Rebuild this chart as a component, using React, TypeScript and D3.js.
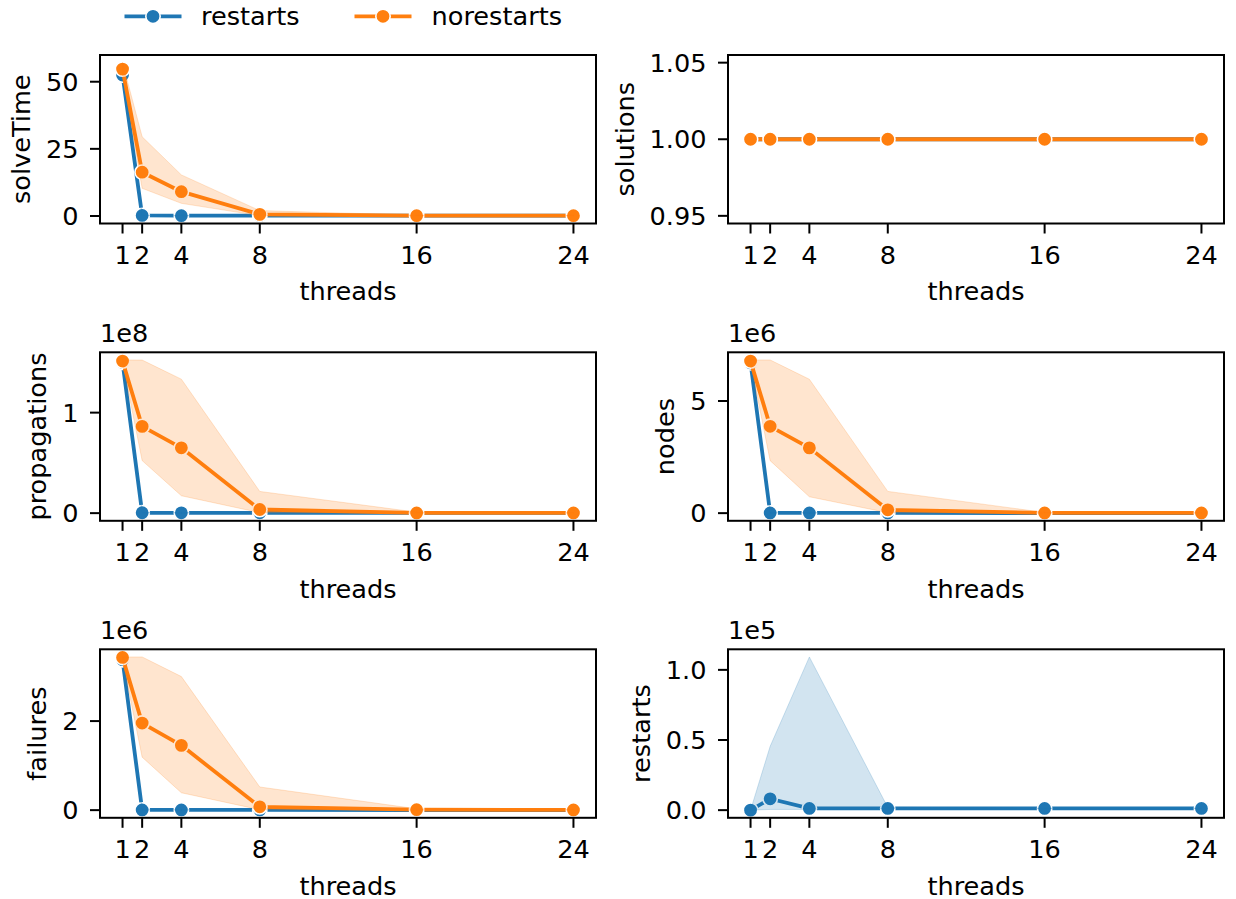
import React from 'react';
import * as d3 from 'd3';

const threads = [1, 2, 4, 8, 16, 24];
const xTicks = [1, 2, 4, 8, 16, 24];

// solveTime
const solveTimeRestarts = [52.5, 0.2, 0.1, 0.1, 0.1, 0.1];
const solveTimeRestartsLo = [52.5, 0.1, 0.05, 0.05, 0.05, 0.05];
const solveTimeRestartsHi = [52.5, 0.3, 0.2, 0.2, 0.2, 0.2];
const solveTimeNorestarts = [54.7, 16.3, 9.05, 0.6, 0.1, 0.1];
const solveTimeNorestartsLo = [52.5, 10.3, 4.7, 0.1, 0.05, 0.05];
const solveTimeNorestartsHi = [57.1, 29.5, 15.3, 2.0, 0.3, 0.2];
const solveTimeTicks = [0, 25, 50];
const solveTimeTickLabels = ['0', '25', '50'];

// solutions
const solutionsRestarts = [1, 1, 1, 1, 1, 1];
const solutionsNorestarts = [1, 1, 1, 1, 1, 1];
const solutionsTicks = [0.95, 1.0, 1.05];
const solutionsTickLabels = ['0.95', '1.00', '1.05'];

// propagations (x 1e8)
const propRestarts = [1.5, 0.004, 0.003, 0.003, 0.002, 0.002];
const propRestartsLo = [1.5, 0.002, 0.002, 0.002, 0.001, 0.001];
const propRestartsHi = [1.5, 0.006, 0.005, 0.004, 0.003, 0.003];
const propNorestarts = [1.513, 0.863, 0.65, 0.036, 0.002, 0.002];
const propNorestartsLo = [1.5, 0.523, 0.173, 0.005, 0.0, 0.0];
const propNorestartsHi = [1.524, 1.523, 1.333, 0.216, 0.01, 0.005];
const propTicks = [0, 1];
const propTickLabels = ['0', '1'];

// nodes (x 1e6)
const nodesRestarts = [6.7, 0.01, 0.01, 0.01, 0.005, 0.005];
const nodesRestartsLo = [6.7, 0.005, 0.005, 0.005, 0.003, 0.003];
const nodesRestartsHi = [6.7, 0.02, 0.02, 0.02, 0.01, 0.01];
const nodesNorestarts = [6.78, 3.87, 2.91, 0.15, 0.01, 0.01];
const nodesNorestartsLo = [6.7, 2.34, 0.73, 0.02, 0.0, 0.0];
const nodesNorestartsHi = [6.83, 6.83, 5.97, 0.97, 0.03, 0.02];
const nodesTicks = [0, 5];
const nodesTickLabels = ['0', '5'];

// failures (x 1e6)
const failRestarts = [3.38, 0.005, 0.005, 0.004, 0.003, 0.003];
const failRestartsLo = [3.38, 0.003, 0.003, 0.002, 0.002, 0.002];
const failRestartsHi = [3.38, 0.008, 0.008, 0.006, 0.005, 0.005];
const failNorestarts = [3.43, 1.955, 1.455, 0.074, 0.01, 0.005];
const failNorestartsLo = [3.38, 1.19, 0.39, 0.01, 0.0, 0.0];
const failNorestartsHi = [3.44, 3.44, 3.0, 0.52, 0.03, 0.015];
const failTicks = [0, 2];
const failTickLabels = ['0', '2'];

// restarts (x 1e5)
const rstRestarts = [0, 0.081, 0.012, 0.012, 0.012, 0.012];
const rstRestartsLo = [0, 0.005, 0.005, 0.01, 0.01, 0.01];
const rstRestartsHi = [0, 0.455, 1.092, 0.02, 0.015, 0.015];
const rstTicks = [0, 0.5, 1.0];
const rstTickLabels = ['0.0', '0.5', '1.0'];

const seriesNames = ['restarts', 'norestarts'];
const colors = ['#1f77b4', '#ff7f0e'];

type Series = { mean: number[]; lo?: number[]; hi?: number[] } | null;
type Panel = {
  label: string;
  col: number;
  row: number;
  offset: string | null;
  ticks: number[];
  tickLabels: string[];
  series: Series[];
};

const panels: Panel[] = [
  { label: 'solveTime', col: 0, row: 0, offset: null, ticks: solveTimeTicks, tickLabels: solveTimeTickLabels,
    series: [
      { mean: solveTimeRestarts, lo: solveTimeRestartsLo, hi: solveTimeRestartsHi },
      { mean: solveTimeNorestarts, lo: solveTimeNorestartsLo, hi: solveTimeNorestartsHi },
    ] },
  { label: 'solutions', col: 1, row: 0, offset: null, ticks: solutionsTicks, tickLabels: solutionsTickLabels,
    series: [{ mean: solutionsRestarts }, { mean: solutionsNorestarts }] },
  { label: 'propagations', col: 0, row: 1, offset: '1e8', ticks: propTicks, tickLabels: propTickLabels,
    series: [
      { mean: propRestarts, lo: propRestartsLo, hi: propRestartsHi },
      { mean: propNorestarts, lo: propNorestartsLo, hi: propNorestartsHi },
    ] },
  { label: 'nodes', col: 1, row: 1, offset: '1e6', ticks: nodesTicks, tickLabels: nodesTickLabels,
    series: [
      { mean: nodesRestarts, lo: nodesRestartsLo, hi: nodesRestartsHi },
      { mean: nodesNorestarts, lo: nodesNorestartsLo, hi: nodesNorestartsHi },
    ] },
  { label: 'failures', col: 0, row: 2, offset: '1e6', ticks: failTicks, tickLabels: failTickLabels,
    series: [
      { mean: failRestarts, lo: failRestartsLo, hi: failRestartsHi },
      { mean: failNorestarts, lo: failNorestartsLo, hi: failNorestartsHi },
    ] },
  { label: 'restarts', col: 1, row: 2, offset: '1e5', ticks: rstTicks, tickLabels: rstTickLabels,
    series: [{ mean: rstRestarts, lo: rstRestartsLo, hi: rstRestartsHi }, null] },
];

const W = 1236;
const H = 899;
const FONT = 'DejaVu Sans';
const FS = 25.6;
const colLeft = [100, 728];
const axW = 496;
const rowTop = [55, 352.3, 649.3];
const axH = 168.5;
const LW = 3.8;
const MR = 7.2;

function textWidth(s: string) {
  let w = 0;
  for (const c of s) w += c === '.' ? 0.318 : 0.636;
  return w * FS;
}

function PanelView({ p }: { p: Panel }) {
  const x0 = colLeft[p.col];
  const y0 = rowTop[p.row];
  const x1 = x0 + axW;
  const y1 = y0 + axH;
  const xmin = d3.min(threads)!;
  const xmax = d3.max(threads)!;
  const xpad = (xmax - xmin) * 0.05;
  const x = d3.scaleLinear().domain([xmin - xpad, xmax + xpad]).range([x0, x1]);

  const vals: number[] = [];
  p.series.forEach((s) => {
    if (!s) return;
    vals.push(...s.mean);
    if (s.lo) vals.push(...s.lo);
    if (s.hi) vals.push(...s.hi);
  });
  let lo = d3.min(vals)!;
  let hi = d3.max(vals)!;
  if (hi - lo < 1e-12) {
    const e = Math.abs(lo) * 0.05 || 0.05;
    lo -= e;
    hi += e;
  }
  const m = (hi - lo) * 0.05;
  const y = d3.scaleLinear().domain([lo - m, hi + m]).range([y1, y0]);

  const line = d3.line<number>().x((_, i) => x(threads[i])).y((d) => y(d));
  const maxTickW = d3.max(p.tickLabels, textWidth)!;
  const ylabX = x0 - 21.5 - maxTickW - 16;

  return (
    <g>
      {p.series.map((s, si) => {
        if (!s) return null;
        const area = s.lo && s.hi
          ? d3.area<number>().x((_, i) => x(threads[i])).y0((_, i) => y(s.lo![i])).y1((_, i) => y(s.hi![i]))(s.mean)
          : null;
        return (
          <g key={si}>
            <path d={line(s.mean)!} fill="none" stroke={colors[si]} strokeWidth={LW} strokeLinejoin="round" />
            {s.mean.map((v, i) => (
              <circle key={i} cx={x(threads[i])} cy={y(v)} r={MR} fill={colors[si]} stroke="#fff" strokeWidth={1.6} />
            ))}
            {area && <path d={area} fill={colors[si]} fillOpacity={0.2} stroke={colors[si]} strokeOpacity={0.2} strokeWidth={1} />}
          </g>
        );
      })}
      <rect x={x0} y={y0} width={axW} height={axH} fill="none" stroke="#000" strokeWidth={2} />
      {xTicks.map((t) => (
        <g key={t}>
          <line x1={x(t)} x2={x(t)} y1={y1} y2={y1 + 10} stroke="#000" strokeWidth={2} />
          <text x={x(t)} y={y1 + 40} textAnchor="middle" fontSize={FS} fontFamily={FONT} fill="#000">{t}</text>
        </g>
      ))}
      {p.ticks.map((t, i) => (
        <g key={i}>
          <line x1={x0 - 10} x2={x0} y1={y(t)} y2={y(t)} stroke="#000" strokeWidth={2} />
          <text x={x0 - 21.5} y={y(t)} dy="0.36em" textAnchor="end" fontSize={FS} fontFamily={FONT} fill="#000">{p.tickLabels[i]}</text>
        </g>
      ))}
      <text x={(x0 + x1) / 2} y={y1 + 76.7} textAnchor="middle" fontSize={FS} fontFamily={FONT} fill="#000">threads</text>
      <text transform={`translate(${ylabX},${(y0 + y1) / 2}) rotate(-90)`} textAnchor="middle" fontSize={FS} fontFamily={FONT} fill="#000">{p.label}</text>
      {p.offset && (
        <text x={x0} y={y0 - 10} fontSize={FS} fontFamily={FONT} fill="#000">{p.offset}</text>
      )}
    </g>
  );
}

function Legend() {
  const items = [
    { x: 124.5, tx: 201 },
    { x: 354.5, tx: 431.5 },
  ];
  const cy = 16.3;
  return (
    <g>
      {items.map((it, i) => (
        <g key={i}>
          <line x1={it.x} x2={it.x + 57} y1={cy} y2={cy} stroke={colors[i]} strokeWidth={LW} />
          <circle cx={it.x + 28.5} cy={cy} r={MR} fill={colors[i]} stroke="#fff" strokeWidth={1.6} />
          <text x={it.tx} y={25} fontSize={FS} fontFamily={FONT} fill="#000">{seriesNames[i]}</text>
        </g>
      ))}
    </g>
  );
}

export default function App() {
  return (
    <svg width={W} height={H} style={{ position: 'absolute', left: 0, top: 0, background: '#fff' }}>
      <rect width={W} height={H} fill="#fff" />
      {panels.map((p, i) => (
        <PanelView key={i} p={p} />
      ))}
      <Legend />
    </svg>
  );
}
